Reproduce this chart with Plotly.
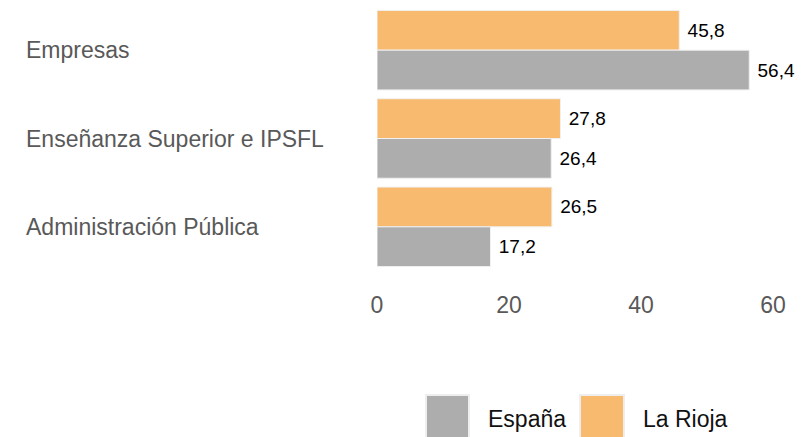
import plotly.graph_objects as go

categories = ["Empresas", "Enseñanza Superior e IPSFL", "Administración Pública"]
la_rioja = [45.8, 27.8, 26.5]
espana = [56.4, 26.4, 17.2]
x_ticks = [0, 20, 40, 60]
series_names = ["España", "La Rioja"]
colors = {"España": "#ADADAD", "La Rioja": "#F7BA6E"}

W, H = 809, 437
L, R, T, B = 377, 36, 6, 166
pw, ph = W - L - R, H - T - B

def px_x(x):
    return (x - L) / pw

def px_y(y):
    return (H - B - y) / ph

fig = go.Figure()
for name, vals in [("La Rioja", la_rioja), ("España", espana)]:
    fig.add_trace(go.Bar(
        y=categories, x=vals, orientation="h", name=name,
        marker=dict(color=colors[name], line=dict(color="#F0F0F0", width=1)),
        texttemplate=" %{x:.1f}", textposition="outside", cliponaxis=False,
        textfont=dict(size=19, color="#000000", family="Liberation Sans, Arial"),
        showlegend=False, hoverinfo="skip",
    ))

annotations = []
for c in categories:
    annotations.append(dict(x=px_x(24), xref="paper", y=c, yref="y", text=c,
                            showarrow=False, xanchor="left", yanchor="middle",
                            font=dict(size=23, color="#595959", family="Liberation Sans, Arial")))

shapes = []
legend_items = [("España", 426, 469, 486), ("La Rioja", 580, 624, 641)]
for name, x0, x1, tx in legend_items:
    shapes.append(dict(type="rect", xref="paper", yref="paper",
                       x0=px_x(x0), x1=px_x(x1), y0=px_y(439), y1=px_y(395),
                       fillcolor=colors[name], line=dict(color="#EEEEEE", width=2)))
    annotations.append(dict(x=px_x(tx), xref="paper", y=px_y(419), yref="paper", text=name,
                            showarrow=False, xanchor="left", yanchor="middle",
                            font=dict(size=23, color="#111111", family="Liberation Sans, Arial")))

fig.update_layout(
    width=W, height=H, margin=dict(l=L, r=R, t=T, b=B),
    paper_bgcolor="white", plot_bgcolor="white",
    barmode="group", bargap=0.1, bargroupgap=0,
    separators=",.",
    xaxis=dict(range=[0, 60], tickvals=x_ticks, showgrid=False, zeroline=False,
               showline=False, ticks="", ticklabelstandoff=18, fixedrange=True,
               tickfont=dict(size=23, color="#595959", family="Liberation Sans, Arial")),
    yaxis=dict(categoryorder="array", categoryarray=categories, autorange="reversed",
               showticklabels=False, showgrid=False, zeroline=False, showline=False,
               ticks="", fixedrange=True),
    annotations=annotations, shapes=shapes,
)

fig.write_html("out.html", config={"displayModeBar": False},
               post_script="document.body.style.margin='0';document.body.style.overflow='hidden';")
